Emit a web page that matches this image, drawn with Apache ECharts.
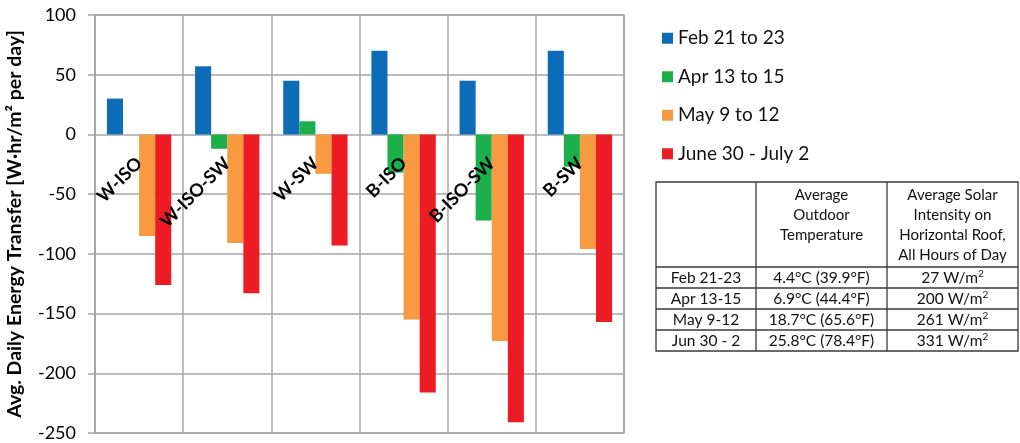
<!DOCTYPE html>
<html>
<head>
<meta charset="utf-8">
<script src="https://cdn.jsdelivr.net/npm/echarts@6/dist/echarts.min.js"></script>
<style>
  html, body { margin: 0; padding: 0; background: #fff; }
  #chart { width: 1020px; height: 443px; }
</style>
</head>
<body>
<div id="chart"></div>
<script>
// Wall / roof configurations along the category axis
const categories = ['W-ISO', 'W-ISO-SW', 'W-SW', 'B-ISO', 'B-ISO-SW', 'B-SW'];
const seriesNames = ['Feb 21 to 23', 'Apr 13 to 15', 'May 9 to 12', 'June 30 - July 2'];

// Average daily energy transfer, W·hr/m² per day
const febValues = [30, 57, 45, 70, 45, 70];
const aprValues = [0, -12, 11, -32, -72, -27];
const mayValues = [-85, -91, -33, -155, -173, -96];
const junValues = [-126, -133, -93, -216, -241, -157];

// Value axis range and step
const yMin = -250;
const yMax = 100;
const yStep = 50;

// Weather summary table
const tableHeader = ['', 'Average\nOutdoor\nTemperature', 'Average Solar\nIntensity on\nHorizontal Roof,\nAll Hours of Day'];
const tablePeriods = ['Feb 21-23', 'Apr 13-15', 'May 9-12', 'Jun 30 - 2'];
const tableTemps = ['4.4°C (39.9°F)', '6.9°C (44.4°F)', '18.7°C (65.6°F)', '25.8°C (78.4°F)'];
const tableSolar = ['27', '200', '261', '331'];
const solarUnit = 'W/m';

const colors = ['#0d6cb8', '#1bb04a', '#f89a42', '#ed1c24'];
const gridColor = '#a6a6a6';
const fontFamily = 'Lato, "Open Sans", sans-serif';

// Plot area placement
const grid = { left: 95, right: 396, top: 15, bottom: 10 };
const chartH = 443;

// Table geometry
const tbl = {
  left: 656, right: 1018, top: 182, headH: 85, rowH: 21,
  cols: [656, 756, 887, 1018]
};

function buildTable() {
  const els = [];
  const lineStyle = { stroke: '#3a3a3a', lineWidth: 1.3 };
  const bottom = tbl.top + tbl.headH + tbl.rowH * tablePeriods.length;
  els.push({ type: 'rect', shape: { x: tbl.left, y: tbl.top, width: tbl.right - tbl.left, height: bottom - tbl.top },
             style: { fill: 'none', stroke: '#3a3a3a', lineWidth: 1.3 } });
  [tbl.cols[1], tbl.cols[2]].forEach(x => {
    els.push({ type: 'line', shape: { x1: x, y1: tbl.top, x2: x, y2: bottom }, style: lineStyle });
  });
  for (let i = 0; i < tablePeriods.length; i++) {
    const y = tbl.top + tbl.headH + tbl.rowH * i;
    els.push({ type: 'line', shape: { x1: tbl.left, y1: y, x2: tbl.right, y2: y }, style: lineStyle });
  }
  const txt = (text, x, y, va, lh, size, rich) => ({
    type: 'text', x: x, y: y,
    style: { text: text, fill: '#111', font: size + 'px ' + fontFamily, fontSize: size, fontFamily: fontFamily,
             align: 'center', textAlign: 'center', verticalAlign: va, textVerticalAlign: va,
             lineHeight: lh, rich: rich }
  });
  tableHeader.forEach((h, c) => {
    if (!h) return;
    const cx = (tbl.cols[c] + tbl.cols[c + 1]) / 2;
    els.push(txt(h, cx, tbl.top + 3, 'top', 20, 15));
  });
  const supRich = {
    n: { fontSize: 15.5, fontFamily: fontFamily, fill: '#111', lineHeight: 18, verticalAlign: 'middle' },
    s: { fontSize: 10, fontFamily: fontFamily, fill: '#111', lineHeight: 18, verticalAlign: 'top' }
  };
  const columns = [tablePeriods, tableTemps, tableSolar];
  columns.forEach((col, c) => {
    const cx = (tbl.cols[c] + tbl.cols[c + 1]) / 2;
    col.forEach((t, r) => {
      const cy = tbl.top + tbl.headH + tbl.rowH * r + tbl.rowH / 2;
      if (c === 2) {
        els.push(txt('{n|' + t + ' ' + solarUnit + '}{s|2}', cx, cy, 'middle', 18, 15.5, supRich));
      } else {
        els.push(txt(t, cx, cy, 'middle', 18, 15.5));
      }
    });
  });
  return els;
}

const chart = echarts.init(document.getElementById('chart'), null, { renderer: 'canvas' });

const seriesData = [febValues, aprValues, mayValues, junValues];

// The category labels hang just below the zero line
const plotH = chartH - grid.top - grid.bottom;
const zeroOffset = -plotH * (0 - yMin) / (yMax - yMin);

chart.setOption({
  animation: false,
  color: colors,
  textStyle: { fontFamily: fontFamily },
  grid: {
    left: grid.left, right: grid.right, top: grid.top, bottom: grid.bottom,
    containLabel: false, outerBoundsMode: 'none',
    show: true, borderColor: gridColor, borderWidth: 1.5, backgroundColor: 'transparent'
  },
  legend: {
    orient: 'vertical',
    left: 657, top: 23,
    itemWidth: 11, itemHeight: 11,
    itemGap: 18,
    icon: 'rect',
    textStyle: { fontSize: 19, color: '#111', fontFamily: fontFamily, lineHeight: 20.5 },
    data: seriesNames
  },
  xAxis: {
    type: 'category',
    data: categories,
    position: 'bottom',
    offset: zeroOffset,
    z: 10,
    axisLine: { show: false, onZero: false },
    axisTick: { show: false },
    axisLabel: {
      rotate: 45, margin: 26, interval: 0,
      fontSize: 18, fontWeight: 'bold', color: '#000', fontFamily: fontFamily
    },
    splitLine: { show: true, interval: 0, lineStyle: { color: gridColor, width: 1.5 } }
  },
  yAxis: {
    type: 'value',
    min: yMin, max: yMax, interval: yStep,
    name: 'Avg. Daily Energy Transfer [W·hr/m² per day]',
    nameLocation: 'middle',
    nameRotate: 90,
    nameGap: 70,
    nameTruncate: { maxWidth: null },
    nameTextStyle: { fontSize: 19.5, fontWeight: 'bold', color: '#000', fontFamily: fontFamily },
    axisLine: { show: true, lineStyle: { color: gridColor, width: 1.5 } },
    axisTick: { show: true, length: 7, lineStyle: { color: gridColor, width: 1.5 } },
    axisLabel: { margin: 19, fontSize: 18, color: '#000', fontFamily: fontFamily },
    splitLine: { show: true, lineStyle: { color: gridColor, width: 1.5 } }
  },
  series: seriesNames.map((name, i) => ({
    name: name,
    type: 'bar',
    data: seriesData[i],
    barGap: '0%',
    barCategoryGap: '27%',
    itemStyle: { color: colors[i] }
  })),
  graphic: { elements: buildTable() }
});
</script>
</body>
</html>
